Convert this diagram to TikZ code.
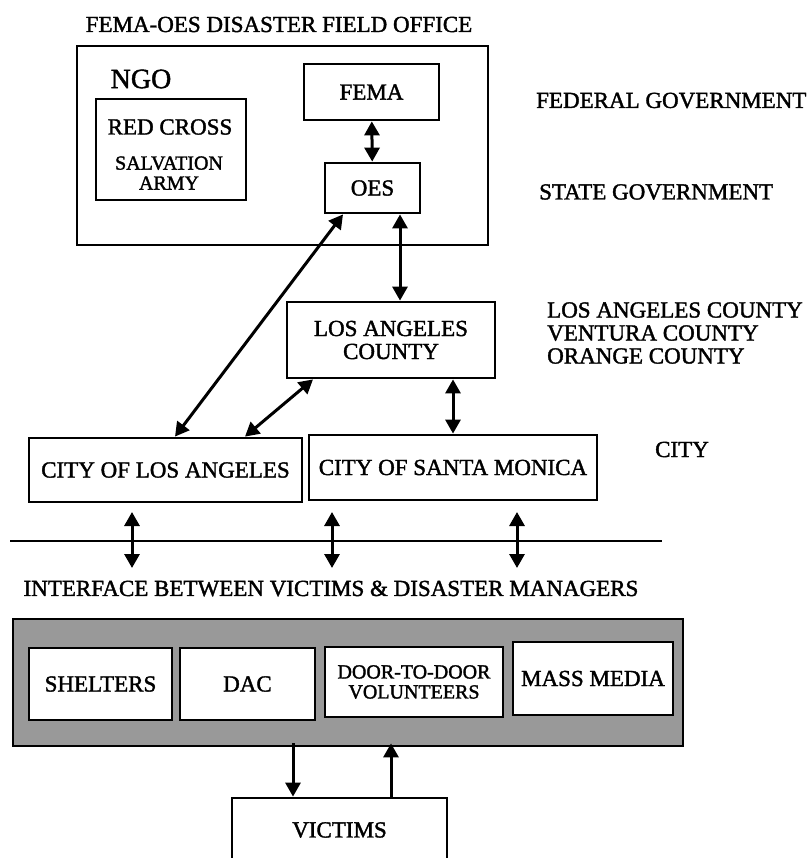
\documentclass[tikz,border=0pt]{standalone}
\usepackage{fontspec}
\setmainfont{Liberation Serif}[FakeBold=1.6]
\usetikzlibrary{arrows.meta,positioning}

\begin{document}
\begin{tikzpicture}[x=1pt, y=-1pt,
  every node/.style={inner sep=0pt, align=center, font=\fontsize{23}{23}\selectfont},
  box/.style={draw, line width=2.8pt, fill=white},
  level/.style={anchor=west, align=left},
  small/.style={font=\fontsize{20}{20}\selectfont},
  arrow/.style={-{Triangle[width=15pt,length=14pt]}, line width=3pt},
  twoway/.style={{Triangle[width=15pt,length=14pt]}-{Triangle[width=15pt,length=14pt]}, line width=3pt}
]
  \useasboundingbox (0,0) rectangle (807,858);

  \node (title) at (279,24.5) {FEMA-OES DISASTER FIELD OFFICE};
  \node[box, fill=none, minimum width=411pt, minimum height=199pt] (dfo) at (282.5,145.5) {};
  \node[font=\fontsize{28}{28}\selectfont] (ngo) at (141,79) {NGO};
  \node[box, minimum width=150pt, minimum height=101pt] (ngobox) at (171,149.5) {};
  \node (redcross) at (170,127) {RED CROSS};
  \node[small] (salvation) at (169,173) {SALVATION\\ARMY};
  \node[box, minimum width=135pt, minimum height=56pt] (fema) at (371.5,92) {FEMA};
  \node[box, minimum width=95pt, minimum height=50pt] (oes) at (372.5,188) {OES};
  \node[box, minimum width=208pt, minimum height=76pt] (lacounty) at (391,340) {LOS ANGELES\\COUNTY};
  \node[box, minimum width=273pt, minimum height=64pt] (cityla) at (165.5,470) {CITY OF LOS ANGELES};
  \node[box, minimum width=288pt, minimum height=65pt] (citysm) at (453,467.5) {CITY OF SANTA MONICA};

  \node[level] (federal) at (536,100.5) {FEDERAL GOVERNMENT};
  \node[level] (state) at (539,192) {STATE GOVERNMENT};
  \node[level] (counties) at (547,333) {LOS ANGELES COUNTY\\VENTURA COUNTY\\ORANGE COUNTY};
  \node[level] (city) at (655,449.5) {CITY};

  \draw[twoway] (fema) -- (oes);
  \draw[twoway] ([xshift=27.5pt]oes.south) -- ([xshift=27.5pt]oes.south |- lacounty.north);
  \draw[twoway] ([xshift=-29.5pt]oes.south) -- ([xshift=9.5pt]cityla.north);
  \draw[twoway] ([xshift=-78pt]lacounty.south) -- ([xshift=79.5pt]cityla.north);
  \draw[twoway] ([xshift=62pt]lacounty.south) -- (citysm.north);

  \coordinate (lineW) at (10,541);
  \coordinate (lineE) at (662,541);
  \draw[line width=2.6pt] (lineW) -- (lineE);
  \foreach \x/\n in {132/a,332/b,517/c} {
    \coordinate (top\n) at (\x,512);
    \coordinate (bot\n) at (\x,568);
    \draw[twoway] (top\n) -- (bot\n);
  }

  \node (interface) at (331,588.5) {INTERFACE BETWEEN VICTIMS \& DISASTER MANAGERS};

  \node[draw, line width=2.8pt, fill=black!40, minimum width=670pt, minimum height=127pt] (shade) at (348,682.5) {};
  \node[box, minimum width=143pt, minimum height=72pt] (shelters) at (100.5,684) {SHELTERS};
  \node[box, minimum width=135pt, minimum height=72pt] (dac) at (247.5,684) {DAC};
  \node[box, small, minimum width=178pt, minimum height=70pt] (door) at (414,682) {DOOR-TO-DOOR\\VOLUNTEERS};
  \node[box, minimum width=160pt, minimum height=73pt] (media) at (593,678.5) {MASS MEDIA};

  \node[box, minimum width=215pt, minimum height=64pt] (victims) at (339.5,830) {VICTIMS};

  \draw[arrow] ([xshift=-55pt,yshift=4pt]shade.south) -- ([xshift=-46.5pt]victims.north);
  \draw[arrow] ([xshift=51.5pt]victims.north) -- ([xshift=43pt,yshift=4pt]shade.south);
\end{tikzpicture}
\end{document}
